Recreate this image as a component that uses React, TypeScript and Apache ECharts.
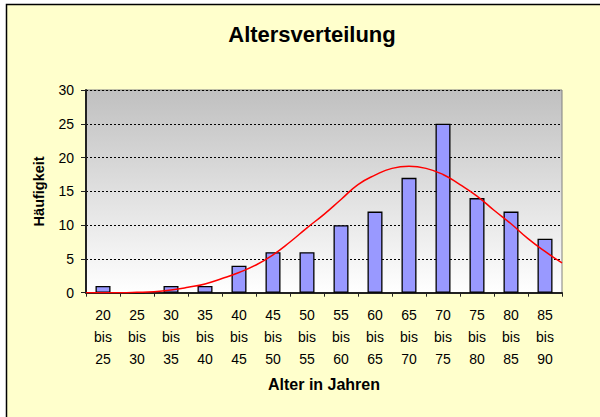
import React, { useEffect, useRef } from "react";
import * as echarts from "echarts";

const categories = [
  "20\nbis\n25", "25\nbis\n30", "30\nbis\n35", "35\nbis\n40", "40\nbis\n45",
  "45\nbis\n50", "50\nbis\n55", "55\nbis\n60", "60\nbis\n65", "65\nbis\n70",
  "70\nbis\n75", "75\nbis\n80", "80\nbis\n85", "85\nbis\n90",
];
const counts = [1, 0, 1, 1, 4, 6, 6, 10, 12, 17, 25, 14, 12, 8];

const curveAges = [
  20, 22.5, 25, 27.5, 30, 32.5, 35, 37.5, 40, 42.5, 45, 47.5, 50, 52.5, 55,
  57.5, 60, 62.5, 65, 67.5, 70, 72.5, 75, 77.5, 80, 82.5, 85, 87.5, 90,
];
const curveValues = [
  0, 0, 0, 0.05, 0.15, 0.4, 0.8, 1.3, 2.1, 3.0, 4.1, 5.6, 7.5, 9.6, 11.6,
  13.8, 16.0, 17.4, 18.4, 18.7, 18.4, 17.5, 16.0, 14.3, 12.2, 10.2, 8.0, 6.1, 4.4,
];

const title = "Altersverteilung";
const xName = "Alter in Jahren";
const yName = "Häufigkeit";

export default function App() {
  const ref = useRef<HTMLDivElement>(null);
  useEffect(() => {
    if (!ref.current) return;
    const chart = echarts.init(ref.current, undefined, { renderer: "svg" });
    const font = "Liberation Sans, Arial, sans-serif";
    chart.setOption({
      animation: false,
      backgroundColor: "#ffffff",
      textStyle: { fontFamily: font },
      title: {
        text: title,
        left: 307,
        top: 18,
        textAlign: "center",
        textStyle: { fontSize: 22, fontWeight: "bold", color: "#000", fontFamily: font },
      },
      graphic: [
        {
          type: "rect",
          z: -10,
          silent: true,
          shape: { x: 6.5, y: 4.5, width: 700, height: 500 },
          style: { fill: "#FFFFCC", stroke: "#000", lineWidth: 1.5 },
        },
      ],
      grid: {
        left: 86,
        top: 90,
        width: 476,
        height: 202.7,
        show: true,
        borderColor: "#808080",
        borderWidth: 1,
        backgroundColor: new echarts.graphic.LinearGradient(0, 0, 0, 1, [
          { offset: 0, color: "#C0C0C0" },
          { offset: 1, color: "#FFFFFF" },
        ]),
      },
      xAxis: [
        {
          type: "category",
          data: categories,
          boundaryGap: true,
          name: xName,
          nameLocation: "middle",
          nameGap: 84,
          nameTextStyle: { fontSize: 16, fontWeight: "bold", color: "#000", fontFamily: font },
          axisLine: { show: true, lineStyle: { color: "#222", width: 2 } },
          axisTick: { show: true, length: 4, lineStyle: { color: "#222", width: 1 } },
          axisLabel: {
            interval: 0,
            fontSize: 14,
            lineHeight: 22,
            color: "#000",
            margin: 11,
            fontFamily: font,
          },
          splitLine: { show: false },
        },
        {
          type: "value",
          min: 20,
          max: 90,
          show: false,
        },
      ],
      yAxis: {
        type: "value",
        min: 0,
        max: 30,
        interval: 5,
        name: yName,
        nameLocation: "middle",
        nameRotate: 90,
        nameGap: 40,
        nameTextStyle: { fontSize: 14.5, fontWeight: "bold", color: "#000", fontFamily: font },
        axisLine: { show: true, lineStyle: { color: "#222", width: 2 } },
        axisTick: { show: true, length: 5, lineStyle: { color: "#222", width: 1 } },
        axisLabel: { fontSize: 14, color: "#000", margin: 12, fontFamily: font },
        splitLine: { show: true, lineStyle: { color: "#000", width: 1, type: [2, 2] } },
      },
      series: [
        {
          type: "bar",
          data: counts,
          xAxisIndex: 0,
          barWidth: 15,
          itemStyle: { color: "#9999FF", borderColor: "#000", borderWidth: 1.3 },
          z: 2,
        },
        {
          type: "line",
          xAxisIndex: 1,
          data: curveAges.map((a, i) => [a, curveValues[i]]),
          smooth: true,
          showSymbol: false,
          lineStyle: { color: "#FF0000", width: 1.5 },
          z: 3,
        },
      ],
    });
    return () => chart.dispose();
  }, []);
  return (
    <div
      ref={ref}
      style={{ position: "fixed", left: 0, top: 0, width: 600, height: 417 }}
    />
  );
}
